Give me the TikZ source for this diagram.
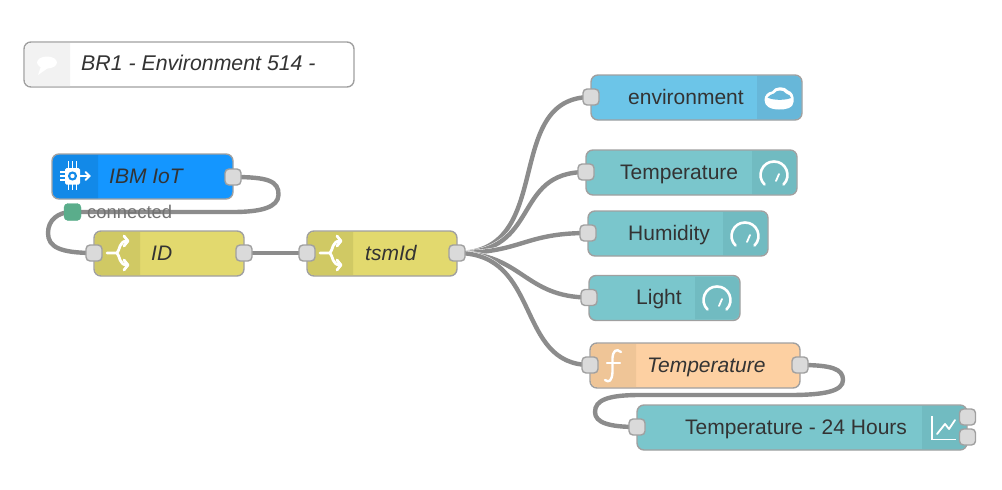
\documentclass[tikz,border=0pt]{standalone}
\usepackage{fontspec}
\setmainfont{Liberation Sans}
\usetikzlibrary{arrows.meta, backgrounds}

\definecolor{edgegrey}{HTML}{A0A0A0}
\definecolor{wiregrey}{HTML}{8C8C8C}
\definecolor{portgrey}{HTML}{DADADA}
\definecolor{textgrey}{HTML}{333333}
\definecolor{ibmblue}{HTML}{1496FF}
\definecolor{ibmicon}{HTML}{1289E8}
\definecolor{switchyellow}{HTML}{E2D96E}
\definecolor{switchicon}{HTML}{D0C964}
\definecolor{cloudblue}{HTML}{6CC5E8}
\definecolor{cloudicon}{HTML}{67B7D9}
\definecolor{gaugeteal}{HTML}{7AC6CC}
\definecolor{gaugeicon}{HTML}{71BBC1}
\definecolor{funcorange}{HTML}{FDD0A2}
\definecolor{funcicon}{HTML}{EFC597}
\definecolor{statusgreen}{HTML}{5AAD8B}

\tikzset{
  flowbox/.style={draw=edgegrey, line width=1.4, rounded corners=7, inner sep=0, minimum height=45},
  port/.style={draw=edgegrey, line width=1.4, fill=portgrey, rounded corners=4, inner sep=0, minimum width=16, minimum height=16},
  wire/.style={draw=wiregrey, line width=4.4, preaction={draw=white, line width=5.2}},
  labeltext/.style={text=textgrey, inner sep=0, anchor=base west, font=\fontsize{21}{25}\selectfont},
  slanted/.style={font=\fontsize{21}{25}\selectfont\itshape},
  icontrace/.style={draw=white, line width=2, line cap=round, line join=round},
  switchsign/.pic={
    \draw[icontrace, line width=2.8] (-10,0) -- (0,0) .. controls (3,-3) and (2,-12) .. (10,-12);
    \draw[icontrace, line width=2.8] (0,0) .. controls (3,3) and (2,12) .. (10,12);
    \draw[icontrace, line width=2.8] (7,-17) -- (11,-12) -- (7,-7);
    \draw[icontrace, line width=2.8] (7,7) -- (11,12) -- (7,17);
  },
  gaugesign/.pic={
    \draw[icontrace, line width=2.6] (-9.5,11.5) .. controls (-18,3) and (-12,-11.5) .. (0,-11.5)
      .. controls (12,-11.5) and (18,3) .. (9.5,11.5);
    \draw[icontrace, line width=1.8] (2,8) -- (5,1);
  },
}

\begin{document}
\begin{tikzpicture}[x=1pt,y=-1pt]
  \useasboundingbox (0,0) rectangle (1002,490);

  % comment
  \node[flowbox, fill=white, minimum width=330] (note) at (189,64.5) {};
  \fill[black!5] (70,43) [rounded corners=6] -- (25,43) -- (25,86) [sharp corners] -- (70,86) -- cycle;
  \fill[white] (47,62.5) ellipse [x radius=10, y radius=6];
  \fill[white] (41,66) -- (38,75) -- (48,68) -- cycle;
  \node[labeltext, font=\fontsize{21.3}{25}\selectfont\itshape] (notetext) at (81,70.5) {BR1 - Environment 514 -};

  % left part
  \node[flowbox, fill=ibmblue, minimum width=181] (ibm) at (142.5,176.5) {};
  \fill[ibmicon] (98,155) [rounded corners=6] -- (53,155) -- (53,198) [sharp corners] -- (98,198) -- cycle;
  \foreach \i in {-4,0,4} {
    \draw[white, line width=1.6] (72.5+\i,161) -- (72.5+\i,190);
    \draw[white, line width=1.6] (60,176+\i) -- (65,176+\i);
  }
  \fill[white, rounded corners=1.5] (65,168) rectangle (80,184.5);
  \fill[ibmicon] (72.5,176) circle (4.6);
  \fill[white] (72.5,176) circle (2.2);
  \draw[white, line width=1.8, line cap=round] (80,176) -- (89,176) (85.5,172) -- (89.5,176) -- (85.5,180);
  \node[labeltext, slanted] (ibmtext) at (109,183.5) {IBM IoT};
  \node[port] (ibmout) at (233,177) {};
  \node[draw=statusgreen, fill=statusgreen, rounded corners=4, inner sep=0, minimum width=17, minimum height=17] (status) at (72.5,212) {};
  \node[labeltext, text=black!55, font=\fontsize{18.4}{22}\selectfont] (statustext) at (87,218) {connected};

  \node[flowbox, fill=switchyellow, minimum width=150] (idbox) at (169,253.5) {};
  \fill[switchicon] (140,232) [rounded corners=6] -- (95,232) -- (95,275) [sharp corners] -- (140,275) -- cycle;
  \pic at (117,253) {switchsign};
  \node[labeltext, slanted] (idtext) at (151,260) {ID};
  \node[port] (idin) at (94,253) {};
  \node[port] (idout) at (244,253) {};

  \node[flowbox, fill=switchyellow, minimum width=150] (tsm) at (382,253.5) {};
  \fill[switchicon] (353,232) [rounded corners=6] -- (308,232) -- (308,275) [sharp corners] -- (353,275) -- cycle;
  \pic at (330,253) {switchsign};
  \node[labeltext, slanted] (tsmtext) at (365,260) {tsmId};
  \node[port] (tsmin) at (307,253) {};
  \node[port] (tsmout) at (457,253) {};

  % right part
  \node[flowbox, fill=cloudblue, minimum width=211] (env) at (696.5,97.5) {};
  \fill[cloudicon] (757,76) [rounded corners=6] -- (801,76) -- (801,119) [sharp corners] -- (757,119) -- cycle;
  \fill[white] (764.5,100) .. controls (764.5,95) and (768,92) .. (772,91.5) .. controls (775,86) and (785,86) .. (788,90.5)
    .. controls (792,91.5) and (794.5,96) .. (793.5,102) .. controls (793,108) and (787,109.5) .. (779,109.5)
    .. controls (770,109.5) and (764.5,106) .. (764.5,100) -- cycle;
  \fill[cloudicon] (767.5,97.5) .. controls (769,95) and (772,94.5) .. (774,93.5) .. controls (777,89.5) and (783,89.5) .. (786,93.5)
    .. controls (789,94.5) and (791,96) .. (791,98) .. controls (785,100.5) and (773,100.5) .. (767.5,97.5) -- cycle;
  \node[labeltext] (envtext) at (628,104) {environment};
  \node[port] (envin) at (591,97) {};

  \node[flowbox, fill=gaugeteal, minimum width=211] (temp) at (691.5,172.5) {};
  \fill[gaugeicon] (752,151) [rounded corners=6] -- (796,151) -- (796,194) [sharp corners] -- (752,194) -- cycle;
  \pic at (774,173) {gaugesign};
  \node[labeltext] (temptext) at (620,179) {Temperature};
  \node[port] (tempin) at (586,172) {};

  \node[flowbox, fill=gaugeteal, minimum width=180] (hum) at (678,233.5) {};
  \fill[gaugeicon] (723,212) [rounded corners=6] -- (767,212) -- (767,255) [sharp corners] -- (723,255) -- cycle;
  \pic at (745,234) {gaugesign};
  \node[labeltext] (humtext) at (628,240) {Humidity};
  \node[port] (humin) at (588,233) {};

  \node[flowbox, fill=gaugeteal, minimum width=151] (light) at (664.5,298) {};
  \fill[gaugeicon] (695,277) [rounded corners=6] -- (739,277) -- (739,319) [sharp corners] -- (695,319) -- cycle;
  \pic at (717,298) {gaugesign};
  \node[labeltext] (lighttext) at (636,304) {Light};
  \node[port] (lightin) at (589,297.5) {};

  \node[flowbox, fill=funcorange, minimum width=210] (func) at (695,365.5) {};
  \fill[funcicon] (636,344) [rounded corners=6] -- (591,344) -- (591,387) [sharp corners] -- (636,387) -- cycle;
  \draw[icontrace, line width=2.4] (621,352) .. controls (616,348) and (613,351) .. (612.5,358) -- (612.5,372)
    .. controls (612,381) and (609,383) .. (605,380);
  \draw[icontrace, line width=2.2] (607,363) -- (620,363);
  \node[labeltext, slanted] (functext) at (647,372) {Temperature};
  \node[port] (funcin) at (590,365) {};
  \node[port] (funcout) at (800,365) {};

  \node[flowbox, fill=gaugeteal, minimum width=330] (hours) at (802,427.5) {};
  \fill[gaugeicon] (922,406) [rounded corners=6] -- (966,406) -- (966,449) [sharp corners] -- (922,449) -- cycle;
  \draw[white, line width=1.2] (932,416) -- (932,439.5) -- (956,439.5);
  \draw[icontrace, line width=1.8] (937,434) -- (945,424) -- (949,429) -- (955,420);
  \node[labeltext] (hourstext) at (685,434) {Temperature - 24 Hours};
  \node[port] (hoursin) at (637,427) {};
  \node[port] (hoursouta) at (967.5,417) {};
  \node[port] (hoursoutb) at (967.5,437) {};

  % wires
  \begin{pgfonlayer}{background}
    \draw[wire] (ibmout.center) .. controls (268,177) and (279,181) .. (278.5,195)
      .. controls (278,207) and (262,212) .. (233,212) -- (72,212)
      .. controls (58,212) and (48,220) .. (48,233)
      .. controls (48,247) and (60,253) .. (idin.center);
    \draw[wire] (idout.center) -- (tsmin.center);
    \draw[wire] (tsmout.center) .. controls +(100,0) and +(-90,0) .. (envin.center);
    \draw[wire] (tsmout.center) .. controls +(85,0) and +(-75,0) .. (tempin.center);
    \draw[wire] (tsmout.center) .. controls +(65,0) and +(-65,0) .. (humin.center);
    \draw[wire] (tsmout.center) .. controls +(65,0) and +(-65,0) .. (lightin.center);
    \draw[wire] (tsmout.center) .. controls +(85,0) and +(-75,0) .. (funcin.center);
    \draw[wire] (funcout.center) .. controls (832,365) and (843,369) .. (843,380)
      .. controls (843,391) and (825,395) .. (790,395) -- (640,395)
      .. controls (608,395) and (595,400) .. (595,412)
      .. controls (595,423) and (610,427) .. (hoursin.center);
  \end{pgfonlayer}
\end{tikzpicture}
\end{document}
